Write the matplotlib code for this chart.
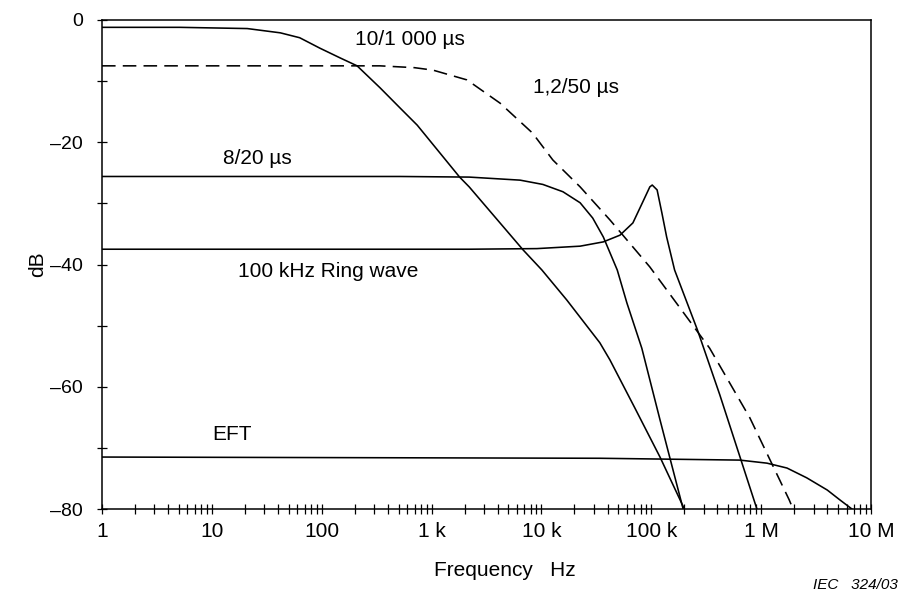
import numpy as np
import matplotlib
matplotlib.use("Agg")
import matplotlib.pyplot as plt
from matplotlib.ticker import FixedLocator, NullFormatter, LogLocator

plt.rcParams['font.family'] = ['Liberation Sans', 'DejaVu Sans']

# ---- data (frequency in Hz, level in dB) ----
f_10_1000 = [1, 5.1, 21, 42, 63, 96, 147, 210, 340, 517, 740, 1800, 2200, 6800, 10100,
             17000, 34000, 42000, 71000, 120000, 200000]
db_10_1000 = [-1.2, -1.2, -1.4, -2.1, -2.9, -4.6, -6.2, -7.5, -11.1, -14.4, -17.2, -25.7, -27.3,
              -37.6, -40.9, -45.8, -52.8, -55.6, -63.5, -71.5, -80]

f_1_2_50 = [1, 340, 700, 1030, 2100, 4200, 8300, 12700, 22500, 42000, 97000, 340000,
            790000, 1800000, 1950000]
db_1_2_50 = [-7.5, -7.5, -7.8, -8.2, -9.8, -13.6, -18.5, -22.9, -27.3, -32.7, -40.4, -53.7,
             -65.1, -78.5, -80]

f_8_20 = [1, 516, 2200, 6400, 10300, 15700, 22500, 29300, 36600, 49000, 60000, 82000,
          120000, 195000]
db_8_20 = [-25.6, -25.6, -25.7, -26.2, -26.9, -28.1, -29.9, -32.4, -35.5, -40.9, -46.3,
           -53.7, -65.4, -80]

f_ring = [1, 2200, 9100, 22500, 36600, 51900, 68000, 83000, 97000, 102000, 113000, 125000,
          138000, 163000, 263000, 420000, 915000]
db_ring = [-37.5, -37.5, -37.4, -37.0, -36.3, -35.2, -33.2, -29.9, -27.3, -27.0, -27.8, -31.6,
           -35.5, -40.9, -50.7, -61.3, -80]

f_eft = [1, 34000, 640000, 1130000, 1720000, 2600000, 4000000, 5200000, 6700000]
db_eft = [-71.5, -71.7, -72.0, -72.5, -73.3, -74.9, -76.9, -78.5, -80]

x_ticks = [1, 10, 100, 1e3, 1e4, 1e5, 1e6, 1e7]
x_labels = ["1", "10", "100", "1 k", "10 k", "100 k", "1 M", "10 M"]
y_ticks = [0, -20, -40, -60, -80]
y_labels = ["0", "\u201320", "\u201340", "\u201360", "\u201380"]
y_minor = [-10, -30, -50, -70]

fig = plt.figure(figsize=(9, 5.92), dpi=100)
ax = fig.add_axes([102/900, 1 - 509/592, (871-102)/900, (509-20)/592])

lw = 1.15
ax.plot(f_10_1000, db_10_1000, color='black', lw=lw)
ax.plot(f_1_2_50, db_1_2_50, color='black', lw=lw, linestyle=(0, (8.5, 4.5)))
ax.plot(f_8_20, db_8_20, color='black', lw=lw)
ax.plot(f_ring, db_ring, color='black', lw=lw)
ax.plot(f_eft, db_eft, color='black', lw=lw)

ax.set_xscale('log')
ax.set_xlim(1, 1e7)
ax.set_ylim(-80, 0)

ax.xaxis.set_major_locator(FixedLocator(x_ticks))
ax.set_xticklabels(x_labels)
ax.xaxis.set_minor_locator(LogLocator(base=10, subs=np.arange(2, 10), numticks=20))
ax.xaxis.set_minor_formatter(NullFormatter())
ax.yaxis.set_major_locator(FixedLocator(y_ticks))
ax.set_yticklabels(y_labels)
ax.yaxis.set_minor_locator(FixedLocator(y_minor))

for s in ax.spines.values():
    s.set_linewidth(1.1)
ax.tick_params(axis='both', which='both', direction='inout', length=7, width=0.9,
               colors='black')
ax.tick_params(axis='x', which='major', pad=6, labelsize=15)
ax.tick_params(axis='y', which='major', pad=10, labelsize=14)

ax.set_ylabel("dB", fontsize=15, va='center')
ax.yaxis.set_label_coords((38 - 102) / 769, 0.5)
ax.set_xlabel("Frequency   Hz", fontsize=15, va='center')
ax.xaxis.set_label_coords((505 - 102) / 769, (509 - 570) / 489)

fs = 15
ax.text(201, -4.1, "10/1 000 \u00b5s", fontsize=fs, va='baseline', ha='left')
ax.text(8380, -11.9, "1,2/50 \u00b5s", fontsize=fs, va='baseline', ha='left')
ax.text(12.6, -23.6, "8/20 \u00b5s", fontsize=fs, va='baseline', ha='left')
ax.text(17.3, -42.0, "100 kHz Ring wave", fontsize=fs, va='baseline', ha='left')
ax.text(10.0, -68.7, "EFT", fontsize=fs, va='baseline', ha='left')

fig.text(898/900, 1 - 589/592, "IEC   324/03", fontsize=11, style='italic',
         ha='right', va='baseline')

fig.savefig("out.png", dpi=100)
